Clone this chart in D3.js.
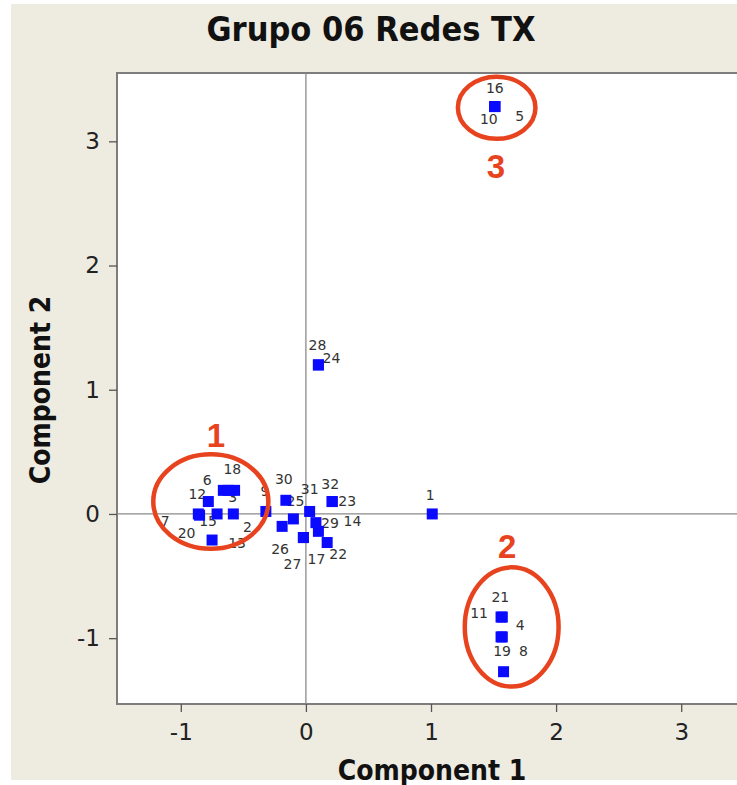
<!DOCTYPE html>
<html>
<head>
<meta charset="utf-8">
<script src="https://cdn.jsdelivr.net/npm/d3@7"></script>
<style>
  body { margin: 0; background: #fff; }
  svg { display: block; }
</style>
</head>
<body>
<div id="chart"></div>
<script>
// observation labels and their scores (component 1, component 2)
var labels = ["1","2","3","4","5","6","7","8","9","10","11","12","13","14","15","16",
              "17","18","19","20","21","22","23","24","25","26","27","28","29","30","31","32"];
var comp1 = [1.01,-0.58,-0.57,1.57,1.51,-0.66,-0.86,1.58,-0.32,1.51,1.56,-0.78,-0.75,0.10,-0.71,1.51,
             -0.02,-0.62,1.56,-0.85,1.57,0.17,0.21,0.10,-0.10,-0.19,-0.02,0.10,0.08,-0.16,0.03,0.21];
var comp2 = [0.00,0.00,0.19,-0.99,3.28,0.19,0.00,-1.27,0.02,3.28,-0.83,0.10,-0.21,-0.14,0.00,3.28,
             -0.19,0.19,-0.99,-0.01,-0.83,-0.23,0.10,1.20,-0.04,-0.10,-0.19,1.20,-0.07,0.11,0.02,0.10];

// where each label sits relative to its point (px)
var labelOffset = {
  "1":[-2,-19], "2":[14,13], "3":[-2,7], "4":[18,-12], "5":[25,9], "6":[-16,-10],
  "7":[-33,7], "8":[20,-21], "9":[-1,-20], "10":[-6,12], "11":[-22,-4], "12":[-11,-8],
  "13":[25,3], "14":[34,-10], "15":[-9,7], "16":[0,-19], "17":[13,21], "18":[4,-21],
  "19":[1,14], "20":[-13,18], "21":[-2,-20], "22":[11,11], "23":[15,-1], "24":[13,-7],
  "25":[2,-18], "26":[-2,23], "27":[-11,26], "28":[-1,-20], "29":[14,0], "30":[-2,-21],
  "31":[0,-22], "32":[-2,-18]
};

var xTicks = [-1, 0, 1, 2, 3];
var yTicks = [-1, 0, 1, 2, 3];

// hand drawn groups: centre, radii (data units), number and its place
var groupNames = ["1", "2", "3"];
var groupCx = [-0.76, 1.645, 1.525];
var groupCy = [0.10, -0.91, 3.27];
var groupRx = [0.46, 0.375, 0.31];
var groupRy = [0.38, 0.48, 0.25];
var groupLabelX = [-0.72, 1.61, 1.52];
var groupLabelY = [0.63, -0.26, 2.80];

var W = 737, H = 785;
var pLeft = 117, pTop = 73, pBottom = 704, pRight = 760;

var svg = d3.select("#chart").append("svg").attr("width", W).attr("height", H);

svg.append("rect").attr("x", 11).attr("y", 4).attr("width", W - 11).attr("height", 776)
  .attr("fill", "#eeebe1");

var x = d3.scaleLinear().domain([-1.51, 3.63]).range([pLeft, pRight]);
var y = d3.scaleLinear().domain([-1.53, 3.55]).range([pBottom, pTop]);

svg.append("rect").attr("x", pLeft).attr("y", pTop)
  .attr("width", pRight - pLeft).attr("height", pBottom - pTop)
  .attr("fill", "#fff").attr("stroke", "#7d7d7d").attr("stroke-width", 2);

// reference lines
svg.append("line").attr("x1", x(0)).attr("x2", x(0)).attr("y1", pTop).attr("y2", pBottom)
  .attr("stroke", "#8a8a8a").attr("stroke-width", 1.3);
svg.append("line").attr("x1", pLeft).attr("x2", pRight).attr("y1", y(0)).attr("y2", y(0))
  .attr("stroke", "#8a8a8a").attr("stroke-width", 1.3);

var fmt = function(d) { return String(d); };
var xAxis = svg.append("g").attr("transform", "translate(0," + pBottom + ")")
  .call(d3.axisBottom(x).tickValues(xTicks).tickSize(8).tickPadding(12).tickFormat(fmt));
var yAxis = svg.append("g").attr("transform", "translate(" + pLeft + ",0)")
  .call(d3.axisLeft(y).tickValues(yTicks).tickSize(8).tickPadding(9).tickFormat(fmt));
[xAxis, yAxis].forEach(function(g) {
  g.select(".domain").remove();
  g.selectAll(".tick line").attr("stroke", "#555").attr("stroke-width", 1.3);
  g.selectAll(".tick text").attr("fill", "#222")
    .style("font-family", "DejaVu Sans, Verdana, sans-serif").style("font-size", "23px");
});

// point labels first, squares on top
var pts = labels.map(function(l, i) { return { label: l, c1: comp1[i], c2: comp2[i] }; });

svg.append("g").selectAll("text").data(pts).enter().append("text")
  .attr("x", function(d) { return x(d.c1) + labelOffset[d.label][0]; })
  .attr("y", function(d) { return y(d.c2) + labelOffset[d.label][1]; })
  .attr("text-anchor", "middle").attr("dominant-baseline", "central")
  .attr("fill", "#333")
  .style("font-family", "DejaVu Sans, Verdana, sans-serif").style("font-size", "14px")
  .text(function(d) { return d.label; });

svg.append("g").selectAll("rect").data(pts).enter().append("rect")
  .attr("x", function(d) { return x(d.c1) - 5.5; })
  .attr("y", function(d) { return y(d.c2) - 5.5; })
  .attr("width", 11).attr("height", 11)
  .attr("fill", "#0a0aff");

// red annotations
var ann = svg.append("g");
groupNames.forEach(function(n, i) {
  ann.append("ellipse")
    .attr("cx", x(groupCx[i])).attr("cy", y(groupCy[i]))
    .attr("rx", x(groupCx[i] + groupRx[i]) - x(groupCx[i]))
    .attr("ry", y(groupCy[i] - groupRy[i]) - y(groupCy[i]))
    .attr("fill", "none").attr("stroke", "#e8431f").attr("stroke-width", 4.5);
  ann.append("text")
    .attr("x", x(groupLabelX[i])).attr("y", y(groupLabelY[i]))
    .attr("text-anchor", "middle").attr("dominant-baseline", "central")
    .attr("fill", "#e8431f")
    .style("font-family", "Liberation Sans, Arial, sans-serif").style("font-weight", "bold")
    .style("font-size", "33px")
    .text(n);
});

svg.append("text").attr("x", 371).attr("y", 29)
  .attr("text-anchor", "middle").attr("dominant-baseline", "central")
  .attr("fill", "#111")
  .style("font-family", "DejaVu Sans Condensed, DejaVu Sans, sans-serif").style("font-weight", "bold")
  .style("font-size", "34px")
  .text("Grupo 06 Redes TX");

svg.append("text").attr("x", 432).attr("y", 770)
  .attr("text-anchor", "middle").attr("dominant-baseline", "central")
  .attr("fill", "#111")
  .style("font-family", "DejaVu Sans Condensed, DejaVu Sans, sans-serif").style("font-weight", "bold")
  .style("font-size", "28px")
  .text("Component 1");

svg.append("text").attr("transform", "translate(40,390) rotate(-90)")
  .attr("text-anchor", "middle").attr("dominant-baseline", "central")
  .attr("fill", "#111")
  .style("font-family", "DejaVu Sans Condensed, DejaVu Sans, sans-serif").style("font-weight", "bold")
  .style("font-size", "28px")
  .text("Component 2");
</script>
</body>
</html>
